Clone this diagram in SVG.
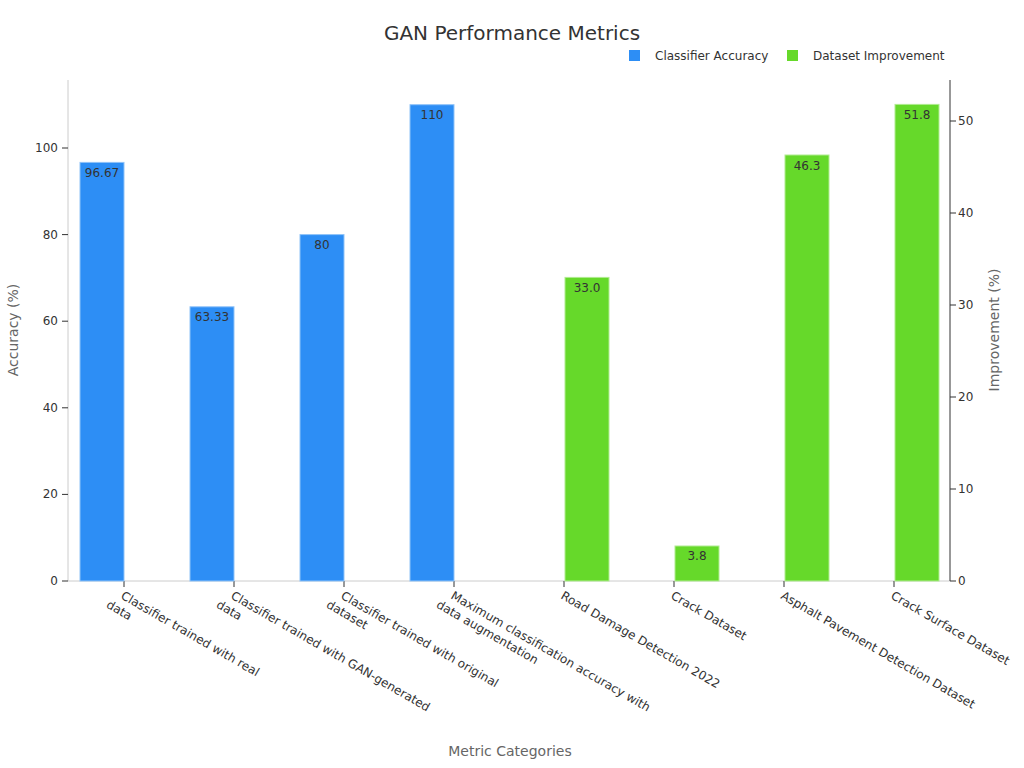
<svg xmlns="http://www.w3.org/2000/svg" width="1024" height="768" viewBox="0 0 1024 768">
<style>
text{font-family:"DejaVu Sans","Liberation Sans",sans-serif;fill:#333}
.t{font-size:12px}
.v{font-size:12px;text-anchor:middle}
.b{fill:#2D8EF5;stroke:#8fc3f8;stroke-width:1}
.g{fill:#66D92A;stroke:#b0ec90;stroke-width:1}
.ax{stroke:#ccc;stroke-width:1;fill:none}
.axd{stroke:#333;stroke-width:1;fill:none}
.cat{font-size:12px}
</style>
<rect width="1024" height="768" fill="#fff"/>
<text x="512" y="40" font-size="20" text-anchor="middle">GAN Performance Metrics</text>
<g id="legend">
<rect x="629" y="50" width="11" height="11" fill="#2D8EF5"/><text x="655" y="60" class="t">Classifier Accuracy</text>
<rect x="787" y="50" width="11" height="11" fill="#66D92A"/><text x="813" y="60" class="t">Dataset Improvement</text>
</g>
<g id="axes">
<path class="ax" d="M68 80V581H950"/>
<path class="axd" d="M950 80V581"/>
<path class="axd" d="M62 581H68M62 494.4H68M62 407.8H68M62 321.2H68M62 234.6H68M62 148H68"/>
<path class="axd" d="M950 581H956M950 489H956M950 397H956M950 305H956M950 213H956M950 121H956"/>
<path class="axd" d="M124 581v6M234 581v6M344 581v6M454 581v6M564 581v6M674 581v6M784 581v6M894 581v6"/>
<g class="t" text-anchor="end">
<text x="58" y="585">0</text><text x="58" y="498.4">20</text><text x="58" y="411.8">40</text><text x="58" y="325.2">60</text><text x="58" y="238.6">80</text><text x="58" y="152">100</text>
</g>
<g class="t">
<text x="958" y="585">0</text><text x="958" y="493">10</text><text x="958" y="401">20</text><text x="958" y="309">30</text><text x="958" y="217">40</text><text x="958" y="125">50</text>
</g>
<text transform="translate(18,330) rotate(-90)" font-size="14" fill="#666" text-anchor="middle" style="fill:#666">Accuracy (%)</text>
<text transform="translate(999,330) rotate(-90)" font-size="14" text-anchor="middle" style="fill:#666">Improvement (%)</text>
<text x="510" y="756" font-size="14" text-anchor="middle" style="fill:#666">Metric Categories</text>
</g>
<g id="bars">
<rect class="b" x="80" y="162.4" width="44" height="418.6"/><text class="v" x="102" y="177">96.67</text>
<rect class="b" x="190" y="306.8" width="44" height="274.2"/><text class="v" x="212" y="321">63.33</text>
<rect class="b" x="300" y="234.6" width="44" height="346.4"/><text class="v" x="322" y="249">80</text>
<rect class="b" x="410" y="104.7" width="44" height="476.3"/><text class="v" x="432" y="119">110</text>
<rect class="g" x="565" y="277.4" width="44" height="303.6"/><text class="v" x="587" y="292">33.0</text>
<rect class="g" x="675" y="546" width="44" height="35"/><text class="v" x="697" y="560">3.8</text>
<rect class="g" x="785" y="155" width="44" height="426"/><text class="v" x="807" y="170">46.3</text>
<rect class="g" x="895" y="104.4" width="44" height="476.6"/><text class="v" x="917" y="119">51.8</text>
</g>
<g id="categories" class="cat">
<text transform="translate(120,598) rotate(30)">Classifier trained with real<tspan x="-8" dy="15">data</tspan></text>
<text transform="translate(230,598) rotate(30)">Classifier trained with GAN-generated<tspan x="-8" dy="15">data</tspan></text>
<text transform="translate(340,598) rotate(30)">Classifier trained with original<tspan x="-8" dy="15">dataset</tspan></text>
<text transform="translate(450,598) rotate(30)">Maximum classification accuracy with<tspan x="-8" dy="15">data augmentation</tspan></text>
<text transform="translate(560,598) rotate(30)">Road Damage Detection 2022</text>
<text transform="translate(670,598) rotate(30)">Crack Dataset</text>
<text transform="translate(780,598) rotate(30)">Asphalt Pavement Detection Dataset</text>
<text transform="translate(890,598) rotate(30)">Crack Surface Dataset</text>
</g>
</svg>
